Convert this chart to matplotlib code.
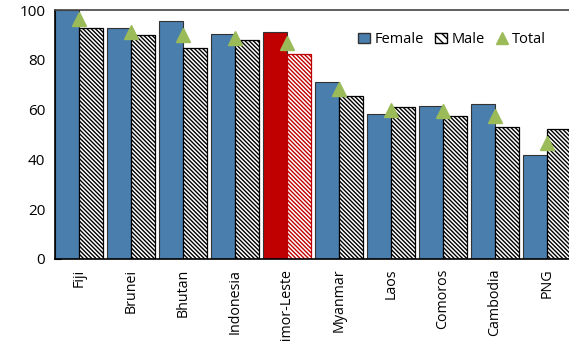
import matplotlib.pyplot as plt
import numpy as np
from matplotlib.patches import Patch
from matplotlib.lines import Line2D

plt.rcParams['font.family'] = ['Open Sans', 'DejaVu Sans']
plt.rcParams['hatch.linewidth'] = 1.0

countries = ["Fiji", "Brunei", "Bhutan", "Indonesia", "Timor-Leste",
             "Myanmar", "Laos", "Comoros", "Cambodia", "PNG"]
female = [100, 92.9, 95.6, 90.2, 91.0, 71.2, 58.4, 61.6, 62.4, 41.8]
male = [92.8, 90.0, 84.7, 87.8, 82.5, 65.6, 61.2, 57.6, 53.1, 52.1]
total = [96.4, 91.2, 90.0, 88.8, 86.7, 68.3, 59.8, 59.4, 57.4, 46.7]
highlight = "Timor-Leste"

blue = "#4A7EAD"
red = "#C00000"
green = "#9BBB59"
hatch = "\\" * 8

fig = plt.figure(figsize=(5.69, 3.41), dpi=100)
ax = fig.add_axes([55 / 569, 82 / 341, 518 / 569, 249 / 341])

x = np.arange(len(countries))
w = 0.4615
for i, c in enumerate(countries):
    hl = c == highlight
    ax.bar(x[i] - w / 2, female[i], w, color=red if hl else blue,
           edgecolor="#333333", linewidth=0.8, zorder=2)
    ax.bar(x[i] + w / 2, male[i], w, color="white",
           edgecolor=red if hl else "black", hatch=hatch,
           linewidth=0.9, zorder=2)
ax.plot(x, total, linestyle="none", marker="^", markersize=10,
        color=green, zorder=3)

ax.set_xlim(-0.4615, 9.5)
ax.set_ylim(0, 100)
ax.set_yticks(range(0, 101, 20))
ax.set_xticks(x)
ax.set_xticklabels(countries, rotation=90, fontsize=10.3)
ax.tick_params(axis="y", direction="in", length=4, labelsize=11, pad=7)
ax.tick_params(axis="x", length=0, pad=7)
for s in ["top", "left", "bottom"]:
    ax.spines[s].set_linewidth(1.2)
ax.spines["top"].set_color("#444444")
ax.spines["right"].set_visible(False)

handles = [Patch(facecolor=blue, edgecolor="#333333"),
           Patch(facecolor="white", edgecolor="black", hatch="\\\\\\\\"),
           Line2D([], [], linestyle="none", marker="^", markersize=9, color=green)]
ax.legend(handles, ["Female", "Male", "Total"], ncol=3, frameon=False,
          loc="upper left", bbox_to_anchor=(0.56, 0.965), fontsize=10.5,
          handlelength=0.8, handletextpad=0.3, columnspacing=0.8)

fig.savefig("out.png", dpi=100)
